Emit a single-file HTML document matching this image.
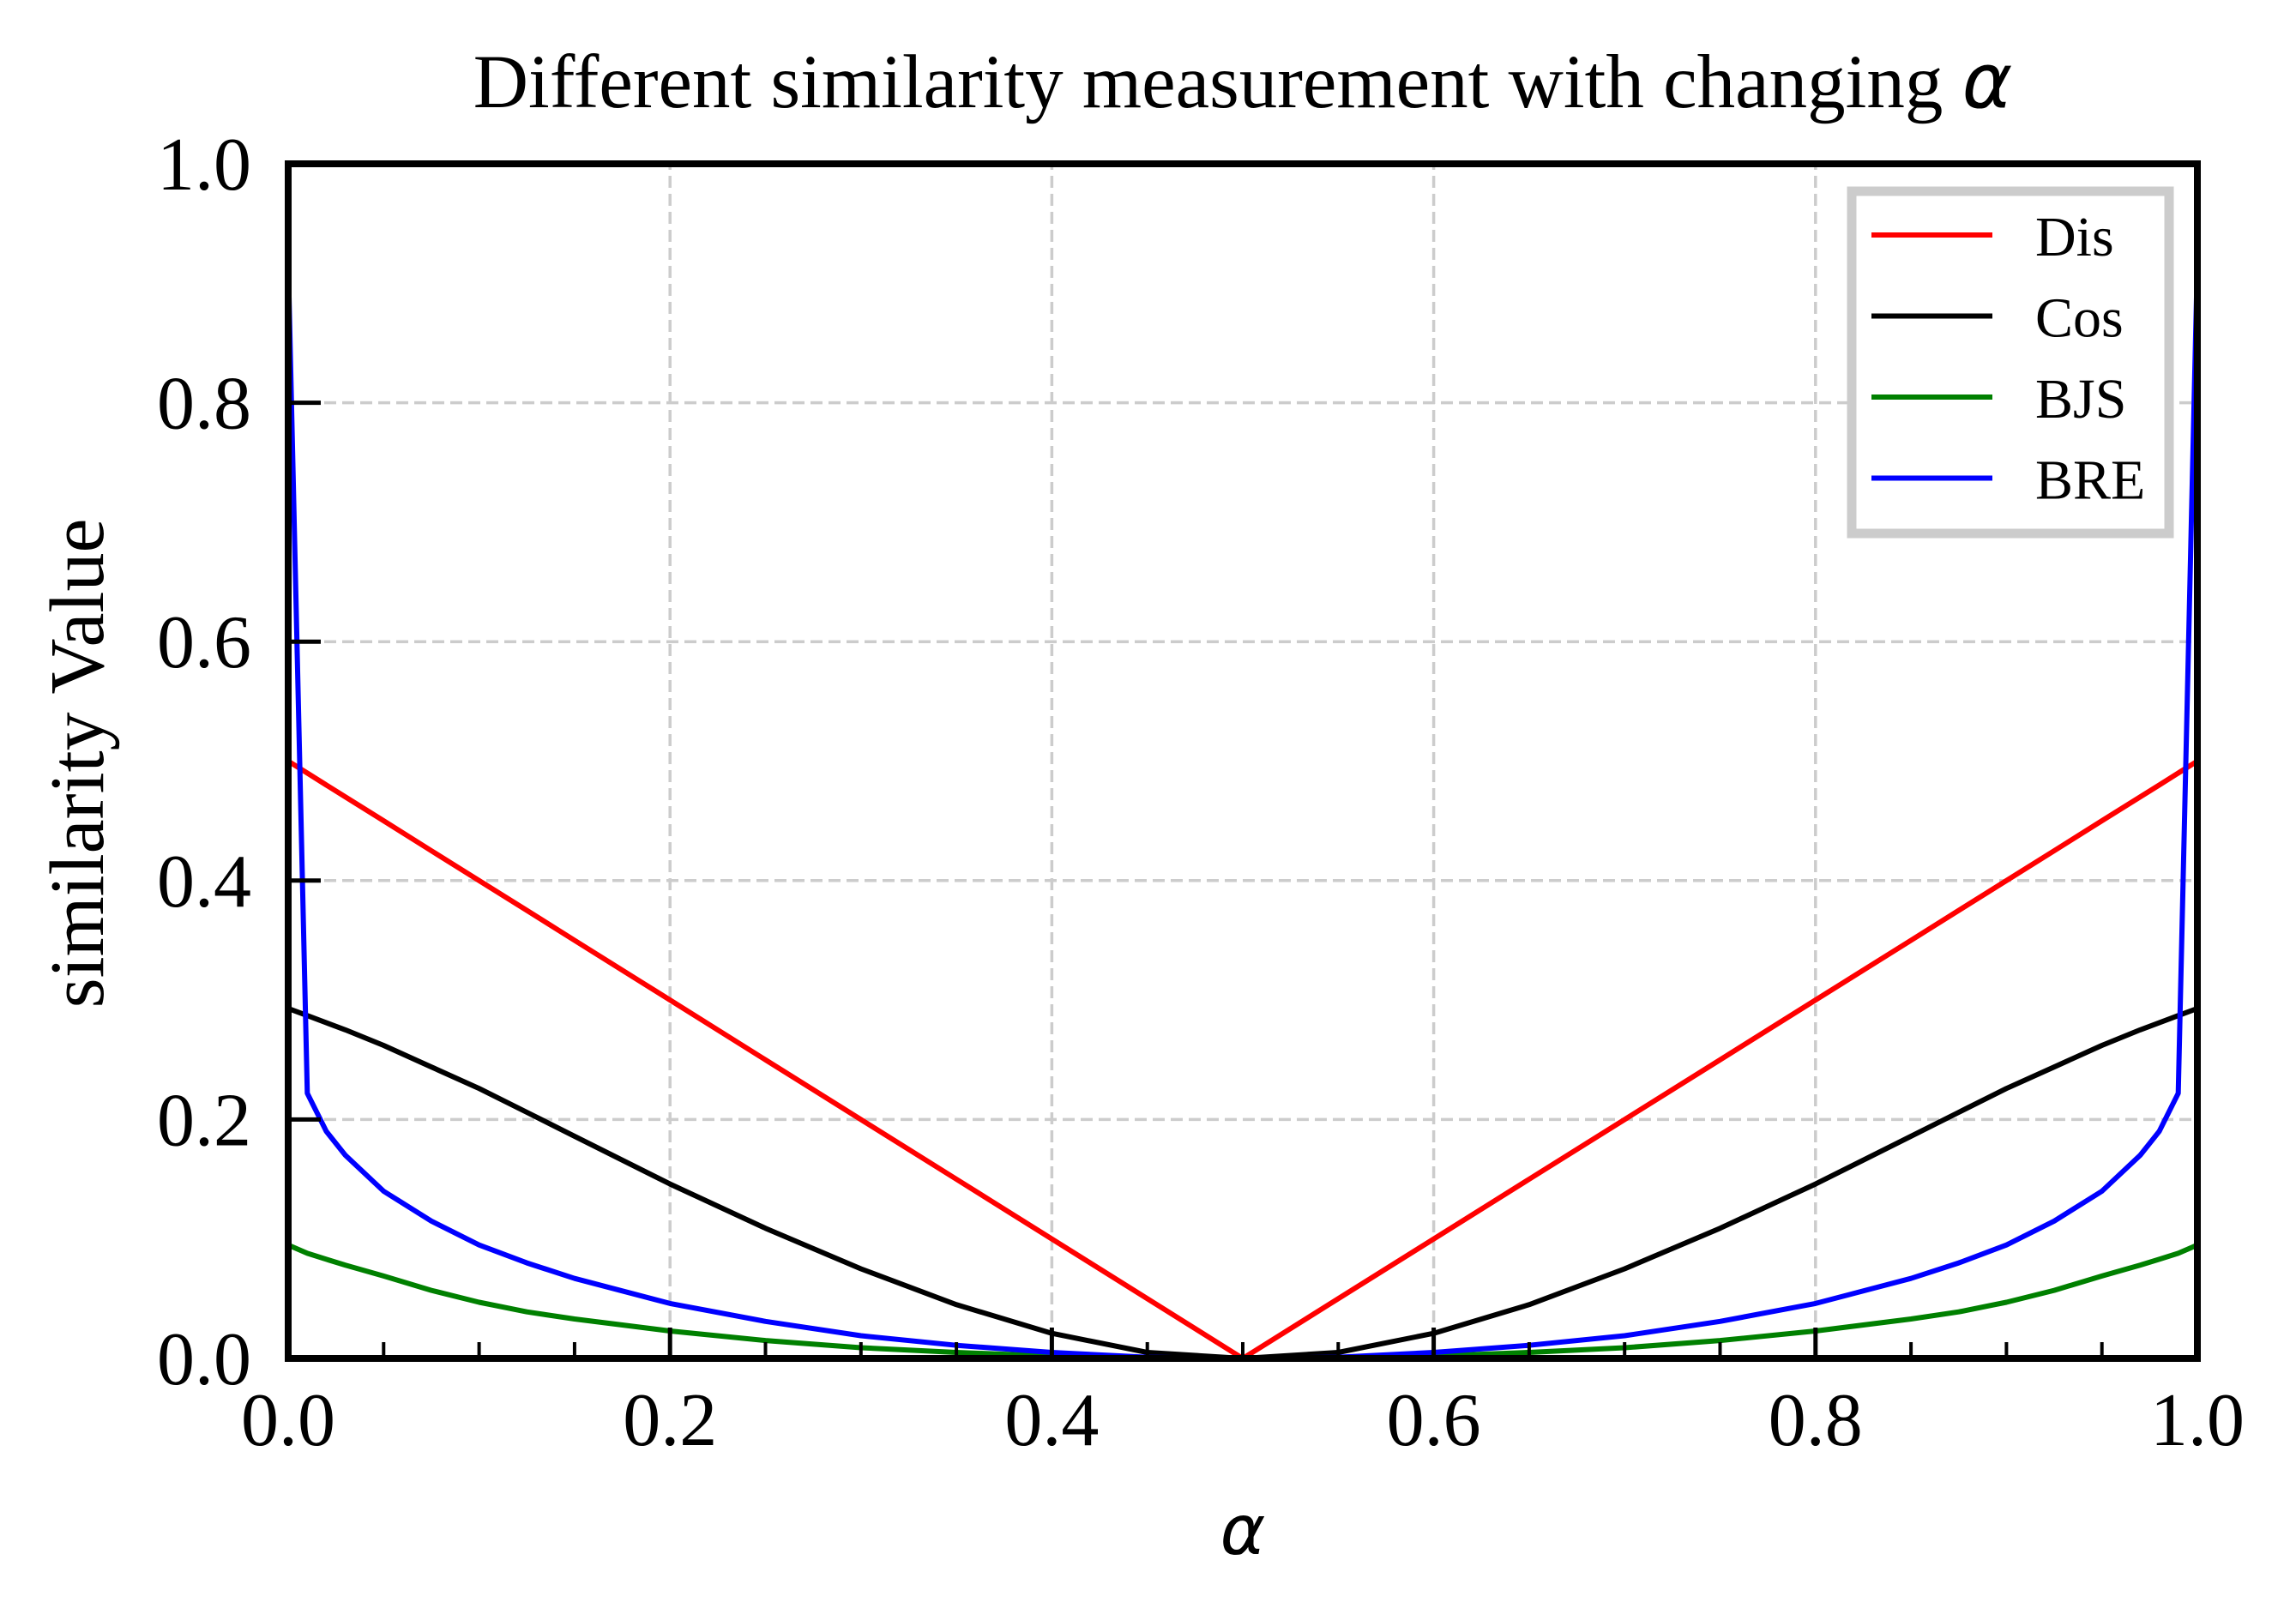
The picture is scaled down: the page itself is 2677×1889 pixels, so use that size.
<!DOCTYPE html>
<html><head><meta charset="utf-8"><style>
html,body{margin:0;padding:0;background:#fff;}
svg{display:block;}
text{font-family:"Liberation Serif",serif;fill:#000;}
</style></head><body>
<svg id="chart" width="2677" height="1889" viewBox="0 0 2677 1889" xmlns="http://www.w3.org/2000/svg">
<rect width="2677" height="1889" fill="#fff"/>
<g id="grid"></g>
<g id="series"></g>
<g id="ticks"></g>
<rect x="336" y="191" width="2226" height="1393" fill="none" stroke="#000" stroke-width="8"/>
<text x="1449" y="125" font-size="89" text-anchor="middle">Different similarity measurement with changing <tspan style="font-family:'DejaVu Sans',sans-serif" font-style="italic">α</tspan></text>
<text x="1449" y="1812" font-size="80" text-anchor="middle" font-style="italic" style="font-family:'DejaVu Sans',sans-serif">α</text>
<text transform="translate(120,890) rotate(-90)" font-size="90" text-anchor="middle">similarity Value</text>
<g>
<rect x="2159" y="223" width="370" height="399" fill="#fff" stroke="#ccc" stroke-width="11"/>
<g id="legend-items"></g>
</g>
</svg>
<script>
const alpha = [0,0.01,0.02,0.03,0.05,0.075,0.1,0.125,0.15,0.2,0.25,0.3,0.35,0.4,0.45,0.5,0.55,0.6,0.65,0.7,0.75,0.8,0.85,0.875,0.9,0.925,0.95,0.97,0.98,0.99,1.0];
const dis = [0.5,0.49,0.48,0.47,0.45,0.425,0.4,0.375,0.35,0.3,0.25,0.2,0.15,0.1,0.05,0,0.05,0.1,0.15,0.2,0.25,0.3,0.35,0.375,0.4,0.425,0.45,0.47,0.48,0.49,0.5];
const cos = [0.293,0.287,0.281,0.275,0.262,0.244,0.226,0.206,0.186,0.146,0.109,0.075,0.045,0.021,0.005,0,0.005,0.021,0.045,0.075,0.109,0.146,0.186,0.206,0.226,0.244,0.262,0.275,0.281,0.287,0.293];
const bjs = [0.095,0.088,0.083,0.078,0.069,0.057,0.047,0.039,0.033,0.023,0.015,0.009,0.005,0.002,0.0005,0,0.0005,0.002,0.005,0.009,0.015,0.023,0.033,0.039,0.047,0.057,0.069,0.078,0.083,0.088,0.095];
const bre = [0.92,0.222,0.19,0.17,0.14,0.115,0.095,0.08,0.067,0.046,0.031,0.019,0.011,0.005,0.001,0,0.001,0.005,0.011,0.019,0.031,0.046,0.067,0.08,0.095,0.115,0.14,0.17,0.19,0.222,0.92];
const seriesNames = ["Dis","Cos","BJS","BRE"];
const seriesColors = ["#ff0000","#000000","#008000","#0000ff"];
const xTicks = [0,0.2,0.4,0.6,0.8,1.0];
const xTickLabels = ["0.0","0.2","0.4","0.6","0.8","1.0"];
const yTicks = [0,0.2,0.4,0.6,0.8,1.0];
const yTickLabels = ["0.0","0.2","0.4","0.6","0.8","1.0"];
const xMinor = [0.05,0.1,0.15,0.25,0.3,0.35,0.45,0.5,0.55,0.65,0.7,0.75,0.85,0.9,0.95];

const NS="http://www.w3.org/2000/svg";
const X0=336,X1=2562,Y0=1584,Y1=191;
const sx=v=>X0+(X1-X0)*v;
const sy=v=>Y0-(Y0-Y1)*v;
function mk(tag,attrs,parent){const e=document.createElementNS(NS,tag);for(const k in attrs)e.setAttribute(k,attrs[k]);parent.appendChild(e);return e;}
const grid=document.getElementById('grid'),ticks=document.getElementById('ticks'),ser=document.getElementById('series'),leg=document.getElementById('legend-items');
xTicks.forEach((t,i)=>{
  if(i>0&&i<xTicks.length-1){const g=mk('line',{x1:sx(t),x2:sx(t),y1:Y0,y2:Y1,stroke:'#cccccc','stroke-width':3.5,'stroke-dasharray':'14,7'},grid);
  
  }
  const tk=mk('line',{x1:sx(t),x2:sx(t),y1:Y0,y2:Y0-36,stroke:'#000','stroke-width':5},ticks);
  
  
  const lb=mk('text',{x:sx(t),y:1685,'font-size':88,'text-anchor':'middle'},ticks);lb.textContent=xTickLabels[i];
  
  
});
xMinor.forEach(t=>{const tk=mk('line',{x1:sx(t),x2:sx(t),y1:Y0,y2:Y0-19,stroke:'#000','stroke-width':4},ticks);
  
  });
yTicks.forEach((t,i)=>{
  if(i>0&&i<yTicks.length-1){const g=mk('line',{x1:X0,x2:X1,y1:sy(t),y2:sy(t),stroke:'#cccccc','stroke-width':3.5,'stroke-dasharray':'14,7'},grid);
  
  }
  const tk=mk('line',{x1:X0,x2:X0+38,y1:sy(t),y2:sy(t),stroke:'#000','stroke-width':5},ticks);
  
  
  const lb=mk('text',{x:293,y:sy(t)+30,'font-size':88,'text-anchor':'end'},ticks);lb.textContent=yTickLabels[i];
  
  
});
const allSeries=[dis,cos,bjs,bre];
const clip=mk('clipPath',{id:'plotclip'},document.getElementById('chart'));
mk('rect',{x:X0,y:Y1,width:X1-X0,height:Y0-Y1},clip);
ser.setAttribute('clip-path','url(#plotclip)');
allSeries.forEach((vals,si)=>{
  const d=vals.map((v,i)=>(i?'L':'M')+sx(alpha[i]).toFixed(1)+','+sy(v).toFixed(1)).join(' ');
  const p=mk('path',{d:d,fill:'none',stroke:seriesColors[si],'stroke-width':6,'stroke-linejoin':'round'},ser);
  
  
  const ly=274+94.5*si;
  const l=mk('line',{x1:2182,x2:2323,y1:ly,y2:ly,stroke:seriesColors[si],'stroke-width':6},leg);
  
  
  const t=mk('text',{x:2373,y:ly+24,'font-size':66},leg);t.textContent=seriesNames[si];
  
  
});
</script>
</body></html>
